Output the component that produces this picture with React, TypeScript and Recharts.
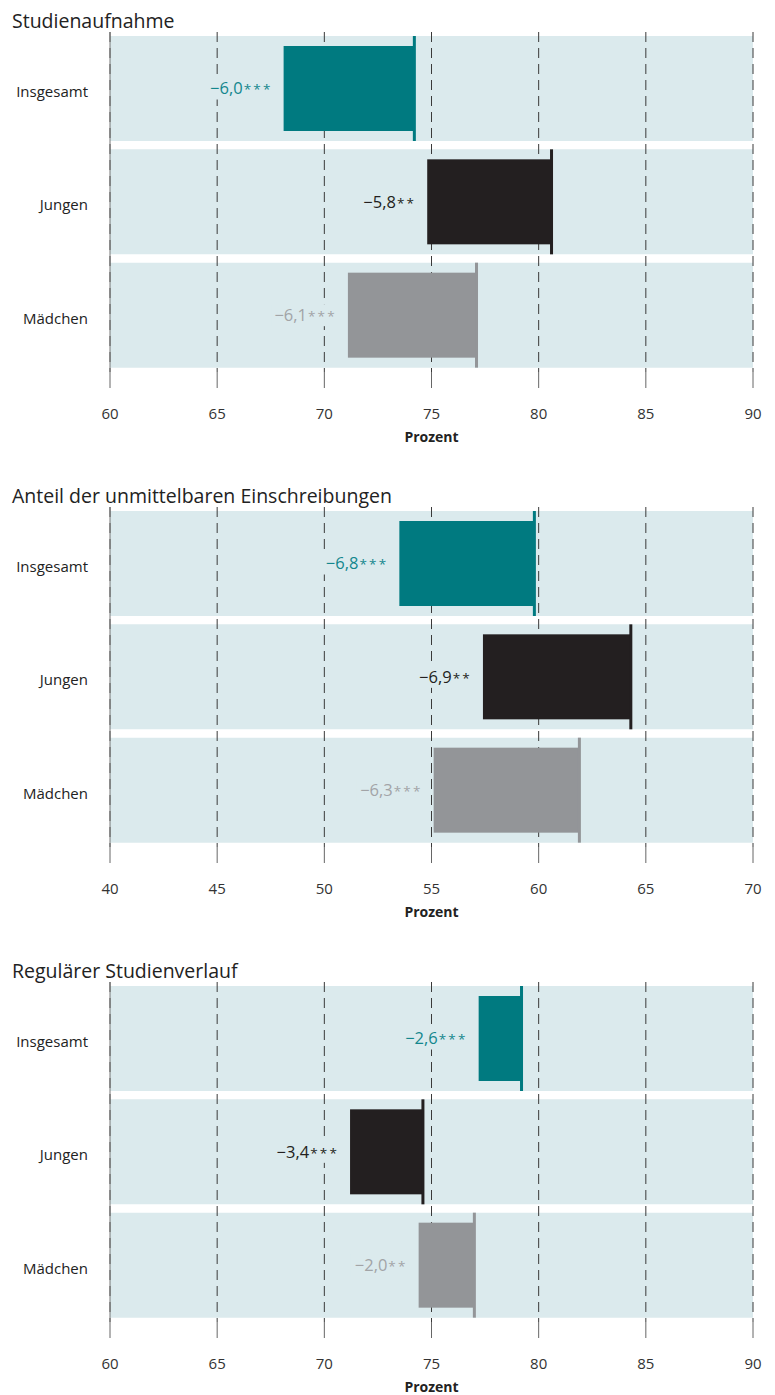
import React from "react";
import { BarChart, Bar, XAxis, YAxis, CartesianGrid } from "recharts";

const groups = ["Insgesamt", "Jungen", "Mädchen"];

const aufnahmeStart = [68.1, 74.8, 71.1];
const aufnahmeEnd = [74.2, 80.6, 77.1];
const aufnahmeLabels = ["−6,0***", "−5,8**", "−6,1***"];

const einschreibungStart = [53.5, 57.4, 55.1];
const einschreibungEnd = [59.8, 64.3, 61.9];
const einschreibungLabels = ["−6,8***", "−6,9**", "−6,3***"];

const verlaufStart = [77.2, 71.2, 74.4];
const verlaufEnd = [79.2, 74.6, 77.0];
const verlaufLabels = ["−2,6***", "−3,4***", "−2,0**"];

const ticksHigh = [60, 65, 70, 75, 80, 85, 90];
const ticksLow = [40, 45, 50, 55, 60, 65, 70];

const barColors = ["#007a80", "#231f20", "#939598"];
const labelColors = ["#13878d", "#231f20", "#a2a4a7"];
const BAND = "#dbeaed";
const FONT = "'Open Sans', sans-serif";
const PANEL_H = 475;
const MARGIN = { top: 32, right: 22, bottom: 23, left: 0 };

const buildRows = (start: number[], end: number[], labels: string[]) =>
  groups.map((g, i) => ({ group: g, start: start[i], end: end[i], label: labels[i] }));

const range = (d: any) => [d.start, d.end];

const RangeBar = (props: any) => {
  const { x, y, width, height, payload } = props;
  const i = groups.indexOf(payload.group);
  const color = barColors[i];
  const inset = 10;
  const cy = y + height / 2;
  const textRight = x - 11;
  const [, num, stars] = payload.label.match(/^(.*?)(\**)$/);
  const labelW = num.length * 9.2 + stars.length * 9;
  return (
    <g>
      <rect x={textRight - labelW - 2} y={cy - 11} width={labelW + 4} height={22} fill={BAND} />
      <text
        x={textRight}
        y={cy}
        dy="0.36em"
        textAnchor="end"
        fontSize={16.5}
        fill={labelColors[i]}
      >
        {num}
        <tspan fontSize={13.5} letterSpacing={2.2} dx="1">
          {stars}
        </tspan>
      </text>
      <rect x={x} y={y + inset} width={width} height={height - 2 * inset} fill={color} />
      <rect x={x + width - 1.5} y={y} width={3} height={height} fill={color} />
    </g>
  );
};

interface PanelProps {
  title: string;
  rows: any[];
  ticks: number[];
  top: number;
}

const Panel = ({ title, rows, ticks, top }: PanelProps) => {
  const domain = [ticks[0], ticks[ticks.length - 1]];
  return (
    <div style={{ position: "absolute", left: 0, top, width: 775, height: PANEL_H }}>
      <div
        style={{
          position: "absolute",
          left: 12,
          top: 10.7,
          fontSize: 19.5,
          lineHeight: "20px",
          color: "#222",
          whiteSpace: "nowrap",
        }}
      >
        {title}
      </div>
      {/* band layer underneath the grid */}
      <div style={{ position: "absolute", left: 0, top: 0 }}>
        <BarChart
          width={775}
          height={PANEL_H}
          data={rows}
          layout="vertical"
          margin={MARGIN}
          barCategoryGap={4}
        >
          <XAxis type="number" domain={domain} ticks={ticks} height={80} tick={false} axisLine={false} tickLine={false} />
          <YAxis type="category" dataKey="group" width={110} tick={false} axisLine={false} tickLine={false} />
          <Bar dataKey={range} fill="transparent" background={{ fill: BAND }} isAnimationActive={false} />
        </BarChart>
      </div>
      <div style={{ position: "absolute", left: 0, top: 0 }}>
        <BarChart
          width={775}
          height={PANEL_H}
          data={rows}
          layout="vertical"
          margin={MARGIN}
          barCategoryGap={4}
        >
          <CartesianGrid horizontal={false} stroke="#3a3a3a" strokeDasharray="10 6" />
          <XAxis
            type="number"
            domain={domain}
            ticks={ticks}
            height={80}
            axisLine={false}
            tickLine={{ stroke: "#666" }}
            tickSize={16}
            tickMargin={20}
            tick={{ fill: "#333", fontSize: 15 }}
            label={{
              value: "Prozent",
              position: "insideBottom",
              offset: 10,
              style: { fill: "#222", fontSize: 14, fontWeight: 700 },
            }}
          />
          <YAxis
            type="category"
            dataKey="group"
            width={110}
            axisLine={{ stroke: "#777" }}
            tickLine={false}
            tickSize={0}
            tickMargin={22}
            tick={{ fill: "#222", fontSize: 15, dy: 3 }}
          />
          <Bar dataKey={range} shape={RangeBar} isAnimationActive={false} />
        </BarChart>
      </div>
    </div>
  );
};

export default function App() {
  return (
    <div
      style={{
        position: "absolute",
        left: 0,
        top: 0,
        width: 775,
        height: 1395,
        background: "#fff",
        fontFamily: FONT,
      }}
    >
      <Panel
        title="Studienaufnahme"
        rows={buildRows(aufnahmeStart, aufnahmeEnd, aufnahmeLabels)}
        ticks={ticksHigh}
        top={0}
      />
      <Panel
        title="Anteil der unmittelbaren Einschreibungen"
        rows={buildRows(einschreibungStart, einschreibungEnd, einschreibungLabels)}
        ticks={ticksLow}
        top={PANEL_H}
      />
      <Panel
        title="Regulärer Studienverlauf"
        rows={buildRows(verlaufStart, verlaufEnd, verlaufLabels)}
        ticks={ticksHigh}
        top={PANEL_H * 2}
      />
    </div>
  );
}
